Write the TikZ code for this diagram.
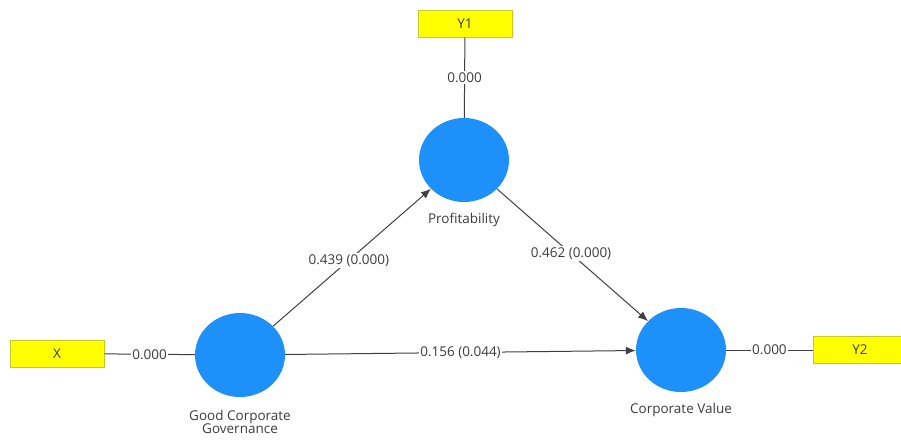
\documentclass[tikz,border=0pt]{standalone}
\usepackage{fontspec}
\setmainfont{Open Sans}
\usetikzlibrary{shapes.geometric,arrows.meta}
\definecolor{lvblue}{RGB}{30,144,250}
\definecolor{mvyellow}{RGB}{255,255,0}
\definecolor{mvborder}{RGB}{200,200,40}
\definecolor{txt}{RGB}{60,60,60}
\tikzset{
  latent/.style={ellipse,fill=lvblue,draw=none,minimum width=90pt,minimum height=84pt,inner sep=0pt},
  manifest/.style={rectangle,fill=mvyellow,draw=mvborder,line width=0.6pt,minimum width=94pt,minimum height=27pt,inner sep=0pt,font=\fontsize{13.5}{15}\selectfont,text=txt},
  lbl/.style={font=\fontsize{13.5}{15}\selectfont,text=txt,align=center,inner sep=1pt},
  elbl/.style={fill=white,font=\fontsize{13.5}{15}\selectfont,text=txt,inner sep=1.5pt},
  conn/.style={draw=black!75,line width=1pt},
  path/.style={conn,-{Latex[length=10pt,width=8pt]}}
}
\begin{document}
\begin{tikzpicture}[x=1pt,y=-1pt]
\useasboundingbox (0,0) rectangle (901,439);
\node[manifest] (y1) at (465,23.5) {Y1};
\node[manifest] (x) at (57,353.5) {X};
\node[manifest] (y2) at (860,350) {Y2};
\node[latent] (prof) at (464,160) {};
\node[latent] (gcg) at (240,355) {};
\node[latent] (cv) at (681,350) {};
\node[lbl] (proflbl) at (464,220) {Profitability};
\node[lbl] (gcglbl) at (240,422) {Good Corporate\\[-2pt]Governance};
\node[lbl] (cvlbl) at (681,410) {Corporate Value};
\draw[conn] (y1) -- node[elbl] {0.000} (prof);
\draw[conn] (x) -- node[elbl] {0.000} (gcg);
\draw[conn] (cv) -- node[elbl] {0.000} (y2);
\draw[path] (gcg) -- node[elbl,pos=0.48] {0.439 (0.000)} (prof);
\draw[path] (prof) -- node[elbl,pos=0.49] {0.462 (0.000)} (cv);
\draw[path] (gcg) -- node[elbl,pos=0.5] {0.156 (0.044)} (cv);
\end{tikzpicture}
\end{document}
